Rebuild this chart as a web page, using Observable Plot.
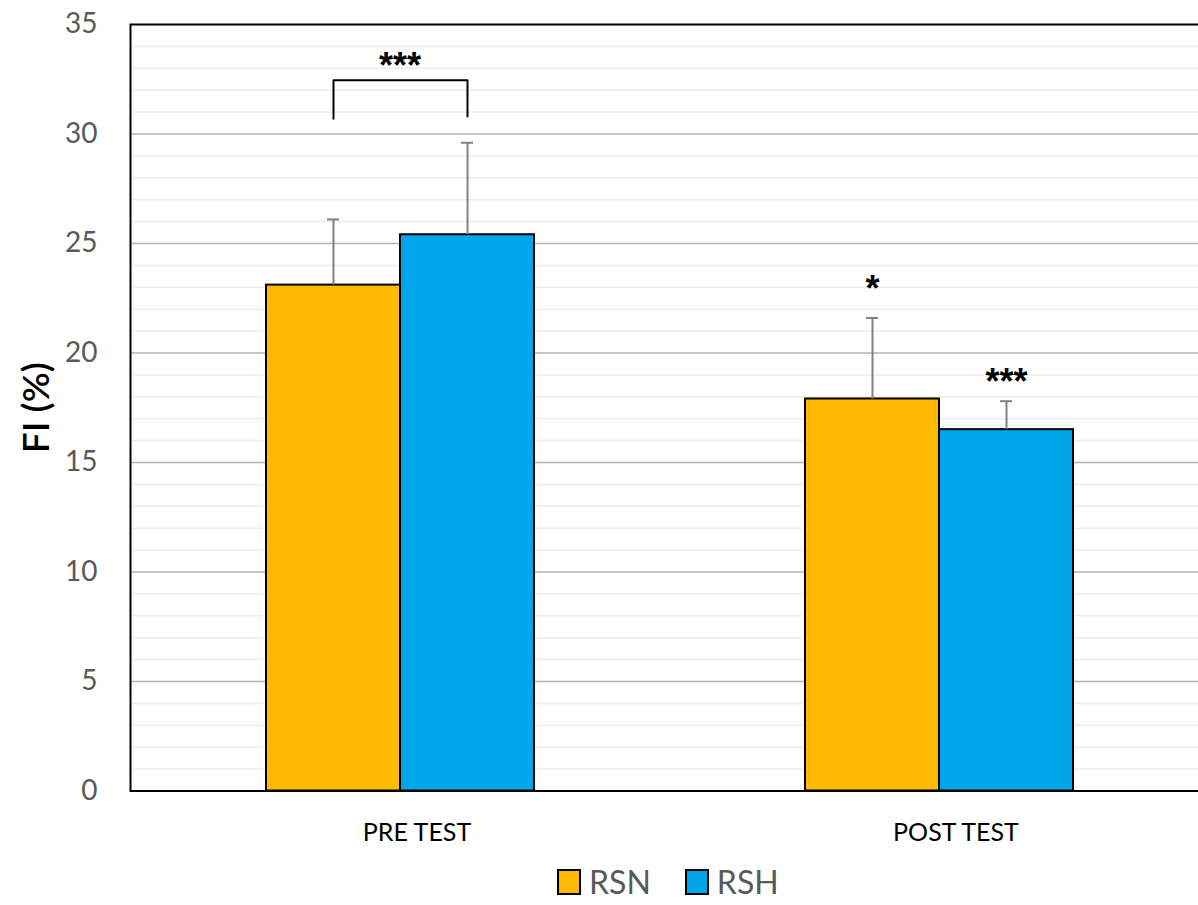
<!DOCTYPE html>
<html><head><meta charset="utf-8">
<script src="https://cdn.jsdelivr.net/npm/d3@7"></script>
<script src="https://cdn.jsdelivr.net/npm/@observablehq/plot@0.6"></script>
<style>
body{margin:0;background:#fff;font-family:Lato,"Open Sans",sans-serif;overflow:hidden}
#chart svg{display:block}
#legend{display:flex;align-items:center;margin-left:557px;margin-top:10px;font-size:32px;line-height:1;color:#595959}
#legend .sw{width:20px;height:22px;border:2px solid #000;margin-right:8px}
#legend .item{display:flex;align-items:center;margin-right:34px}
</style>
</head><body><div id="chart"></div>
<script>
const tests = ["PRE TEST", "POST TEST"];
const series = ["RSN", "RSH"];
const colors = ["#FFB900", "#00A6EA"];
const rsnValues = [23.1, 17.9];
const rshValues = [25.4, 16.5];
const rsnErrors = [3.0, 3.7];
const rshErrors = [4.2, 1.3];
const yTicks = [0, 5, 10, 15, 20, 25, 30, 35];
const minorTicks = d3.range(1, 35).filter(v => v % 5 !== 0);
// significance annotations
const bracketSeries = ["RSN", "RSN", "RSH", "RSH"];
const bracketY = [30.7, 32.45, 32.45, 30.8];
const groupStarY = [33.1];
const groupStarText = ["***"];
const barStarTests = ["POST TEST", "POST TEST"];
const barStarSeries = ["RSN", "RSH"];
const barStarY = [22.9, 18.65];
const barStarText = ["*", "***"];

const data = [];
tests.forEach((t, i) => {
  data.push({test: t, series: "RSN", value: rsnValues[i], err: rsnErrors[i]});
  data.push({test: t, series: "RSH", value: rshValues[i], err: rshErrors[i]});
});
const bracket = bracketSeries.map((s, i) => ({test: "PRE TEST", series: s, y: bracketY[i]}));
const groupStars = groupStarY.map((y, i) => ({test: "PRE TEST", y, text: groupStarText[i]}));
const barStars = barStarY.map((y, i) => ({test: barStarTests[i], series: barStarSeries[i], y, text: barStarText[i]}));

const chart = Plot.plot({
  width: 1198,
  height: 856,
  marginLeft: 130,
  marginRight: -10,
  marginTop: 24,
  marginBottom: 65.5,
  style: {fontFamily: "Lato, 'Open Sans', sans-serif", background: "#fff"},
  fx: {domain: tests, padding: 0, axis: null},
  x: {domain: series, paddingInner: 0, paddingOuter: 1, axis: null},
  y: {domain: [0, 35], axis: null},
  color: {domain: series, range: colors},
  marks: [
    Plot.ruleY(minorTicks, {stroke: "#ececec", strokeWidth: 1.5}),
    Plot.ruleY(yTicks.slice(1, -1), {stroke: "#b3b3b3", strokeWidth: 1.5}),
    Plot.barY(data, {fx: "test", x: "series", y: "value", fill: "series", stroke: "#000", strokeWidth: 2}),
    Plot.ruleX(data, {fx: "test", x: "series", y1: "value", y2: d => d.value + d.err, stroke: "#808080", strokeWidth: 2}),
    Plot.tickY(data, {fx: "test", x: "series", y: d => d.value + d.err, stroke: "#808080", strokeWidth: 2, insetLeft: 61, insetRight: 61}),
    Plot.line(bracket, {fx: "test", x: "series", y: "y", stroke: "#000", strokeWidth: 2}),
    Plot.text(groupStars, {fx: "test", y: "y", text: "text", fontSize: 36, fontWeight: "bold", fontFamily: "Liberation Sans", fill: "#000"}),
    Plot.text(barStars, {fx: "test", x: "series", y: "y", text: "text", fontSize: 36, fontWeight: "bold", fontFamily: "Liberation Sans", fill: "#000"}),
    Plot.frame({facet: "super", stroke: "#000", strokeWidth: 2}),
    Plot.axisY(yTicks, {tickSize: 0, tickPadding: 33, fontSize: 28, fill: "#595959", label: null}),
    Plot.axisY({ticks: [], label: "FI (%)", labelAnchor: "center", labelArrow: "none", labelOffset: 108, fontSize: 37, fontWeight: 600, fill: "#000"}),
    Plot.axisFx({anchor: "bottom", tickSize: 0, tickPadding: 32, fontSize: 25, fill: "#000", dx: 17, label: null})
  ]
});
document.getElementById("chart").appendChild(chart);

const legend = document.createElement("div");
legend.id = "legend";
series.forEach((s, i) => {
  const item = document.createElement("div");
  item.className = "item";
  const sw = document.createElement("div");
  sw.className = "sw";
  sw.style.background = colors[i];
  const lab = document.createElement("span");
  lab.textContent = s;
  item.appendChild(sw);
  item.appendChild(lab);
  legend.appendChild(item);
});
document.body.appendChild(legend);
</script>
</body></html>
